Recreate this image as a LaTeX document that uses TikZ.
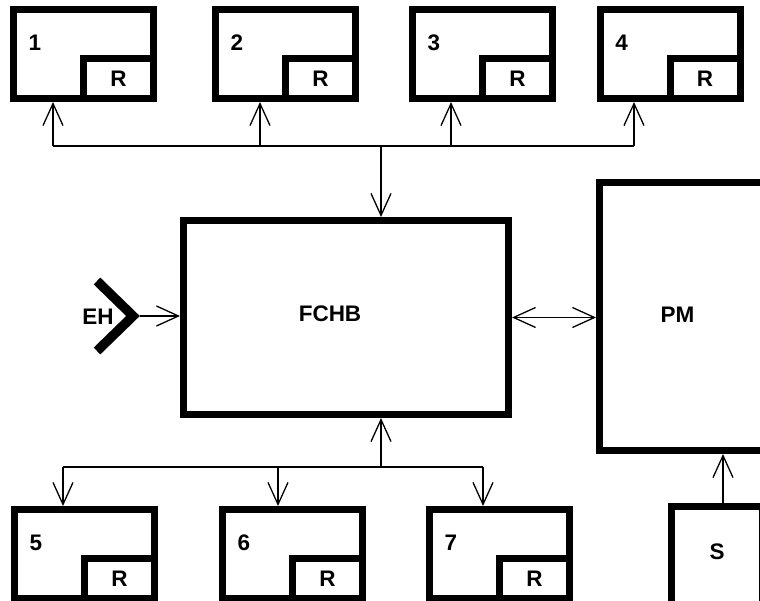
\documentclass[tikz,border=0pt]{standalone}
\usepackage{fontspec}
\setmainfont{Liberation Sans}
\usetikzlibrary{arrows.meta, positioning}

\begin{document}
\begin{tikzpicture}[x=1pt, y=-1pt, >={Straight Barb[length=22pt, width=20pt]},
  unit/.style={draw, line width=7pt, minimum width=140pt, minimum height=89pt, inner sep=0pt},
  rbox/.style={draw, line width=7pt, minimum width=70pt, minimum height=40pt, inner sep=0pt,
               anchor=south east, font=\bfseries\fontsize{22.5}{26}\selectfont},
  bigbox/.style={draw, line width=7pt, inner sep=0pt},
  txt/.style={font=\bfseries\fontsize{22.5}{26}\selectfont},
  wire/.style={line width=1.3pt}]

  \useasboundingbox (0,0) rectangle (760,601);
  \clip (0,0) rectangle (760,601);

  % Obere Reihe: Einheiten 1-4
  \node[unit] (box1) at (83.5,54) {};
  \node[unit] (box2) at (285.5,54) {};
  \node[unit] (box3) at (482.5,54) {};
  \node[unit] (box4) at (670,54) {};

  % Untere Reihe: Einheiten 5-7
  \node[unit] (box5) at (84.5,554) {};
  \node[unit] (box6) at (292.5,554) {};
  \node[unit] (box7) at (499.5,554) {};

  % R-Felder und Nummern
  \foreach \i in {1,...,7} {
    \node[rbox] (r\i) at (box\i.south east) {R};
    \node[txt] (n\i) at ([shift={(25,37)}]box\i.north west) {\i};
  }

  % Mitte: FCHB, PM, S
  \node[bigbox, minimum width=325pt, minimum height=194pt,
        label={[txt, xshift=-16pt, yshift=4pt]center:FCHB}] (fchb) at (346,317.5) {};
  \node[bigbox, minimum width=220pt, minimum height=268pt,
        label={[txt, xshift=-32pt, yshift=2pt]center:PM}] (pm) at (709.5,316.5) {};
  \node[bigbox, minimum width=91pt, minimum height=110pt,
        label={[txt, yshift=10pt]center:S}] (s) at (717,561.5) {};

  % EH
  \draw[line width=9.5pt, line cap=butt, line join=miter] (97,281) -- (133,316) -- (97,351);
  \coordinate (ehtip) at (140,316);
  \node[txt] (eh) at (98,317) {EH};

  % Bus oben
  \coordinate (t1) at (53,146);
  \coordinate (t2) at (260,146);
  \coordinate (t3) at (451,146);
  \coordinate (t4) at (634,146);
  \coordinate (tc) at (381,146);
  \draw[wire] (t1) -- (t4);
  \foreach \i in {1,...,4}
    \draw[wire, ->] (t\i) -- (t\i |- box\i.south);
  \draw[wire, ->] (tc) -- (tc |- fchb.north);

  % Bus unten
  \coordinate (b5) at (63,467);
  \coordinate (b6) at (278,467);
  \coordinate (b7) at (483,467);
  \coordinate (bc) at (381,467);
  \draw[wire] (b5) -- (b7);
  \foreach \i in {5,6,7}
    \draw[wire, ->] (b\i) -- (b\i |- box\i.north);
  \draw[wire, ->] (bc) -- (bc |- fchb.south);

  % Verbindungen
  \draw[wire, ->] (ehtip) -- (ehtip -| fchb.west);
  \draw[wire, <->] (fchb.east) -- (fchb.east -| pm.west);
  \coordinate (sx) at (723,500);
  \draw[wire, ->] (sx |- s.north) -- (sx |- pm.south);
\end{tikzpicture}
\end{document}
